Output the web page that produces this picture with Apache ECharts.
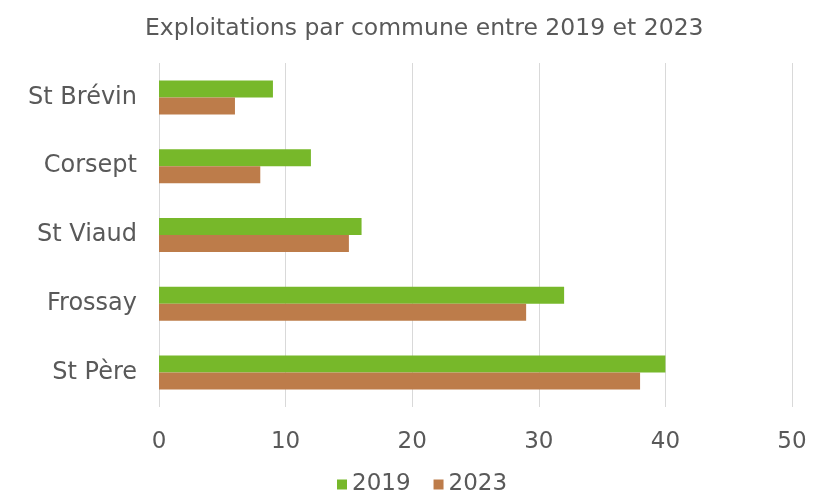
<!DOCTYPE html>
<html><head><meta charset="utf-8">
<script src="https://cdn.jsdelivr.net/npm/echarts@6/dist/echarts.min.js"></script>
<style>html,body{margin:0;padding:0;background:#fff}#c{width:813px;height:495px}</style>
</head><body><div id="c"></div>
<script>
const categories = ["St Brévin", "Corsept", "St Viaud", "Frossay", "St Père"];
const values2019 = [9, 12, 16, 32, 40];
const values2023 = [6, 8, 15, 29, 38];
const seriesNames = ["2019", "2023"];
const chart = echarts.init(document.getElementById('c'));
const txt = '#595959';
const font = 'DejaVu Sans';
chart.setOption({
  animation: false,
  title: { text: 'Exploitations par commune entre 2019 et 2023', left: 145, top: 17, padding: 0,
    textStyle: { color: txt, fontSize: 23.5, fontWeight: 'normal', fontFamily: font } },
  legend: { top: 473, left: 337, padding: 0, itemWidth: 10, itemHeight: 10, itemGap: 23, icon: 'rect',
    textStyle: { color: txt, fontSize: 23, fontFamily: font } },
  grid: { left: 159, right: 21, top: 63, bottom: 88, containLabel: false },
  xAxis: { type: 'value', min: 0, max: 50, interval: 10,
    axisLine: { show: false }, axisTick: { show: false },
    splitLine: { lineStyle: { color: '#d9d9d9' } },
    axisLabel: { color: txt, fontSize: 23, fontFamily: font, margin: 24 } },
  yAxis: { type: 'category', data: categories, inverse: true,
    axisLine: { show: false }, axisTick: { show: false },
    axisLabel: { color: txt, fontSize: 24, fontFamily: font, margin: 22 } },
  series: [
    { name: seriesNames[0], type: 'bar', data: values2019, itemStyle: { color: '#77b82a' }, barWidth: 17, barGap: '0%' },
    { name: seriesNames[1], type: 'bar', data: values2023, itemStyle: { color: '#bd7c4a' }, barWidth: 17, barGap: '0%' }
  ]
});
</script></body></html>
